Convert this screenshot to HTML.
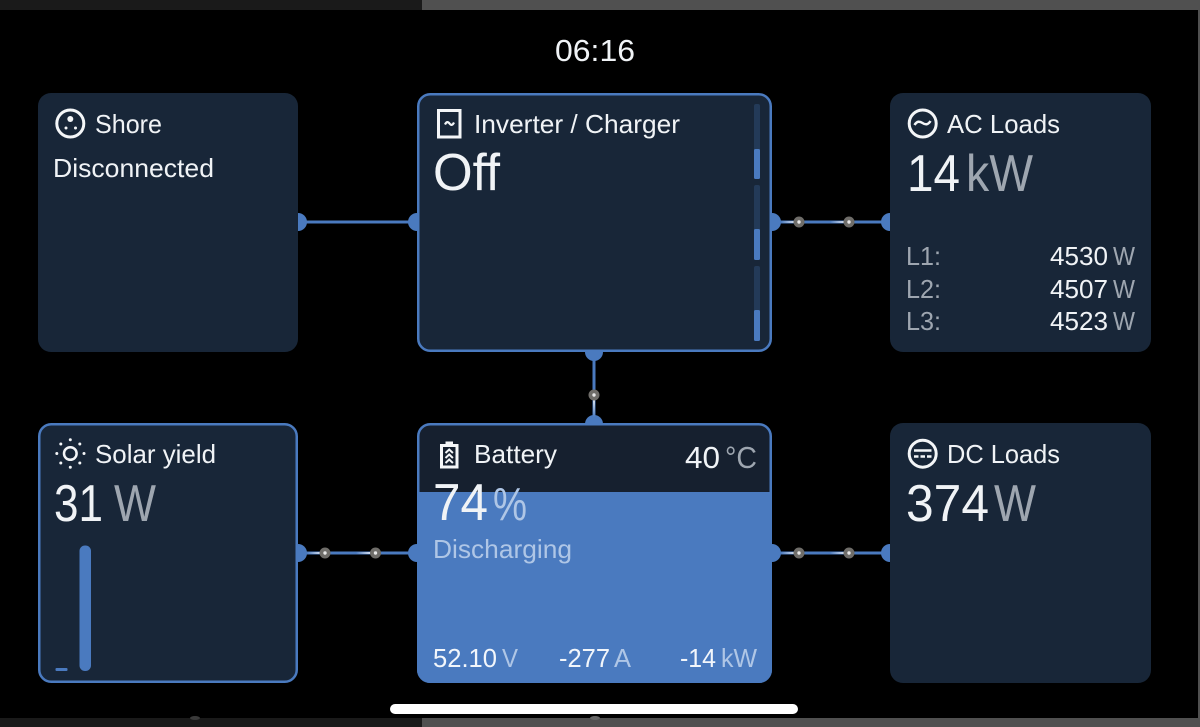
<!DOCTYPE html>
<html>
<head>
<meta charset="utf-8">
<style>
html,body{margin:0;padding:0;background:#000;width:1200px;height:727px;overflow:hidden}
svg{display:block;filter:blur(0.35px)}
text{font-family:"Liberation Sans",sans-serif;fill:#f0f3f6}
.g{fill:#9ea6b0}
.b{fill:#afc6e6}
.b2{fill:#f2f6fb}
</style>
</head>
<body>
<svg width="1200" height="727" viewBox="0 0 1200 727" xmlns="http://www.w3.org/2000/svg">
<defs>
<clipPath id="bc"><rect x="417" y="423" width="355" height="260" rx="13"/></clipPath>
<linearGradient id="s" x1="0" x2="1" y1="0" y2="0"><stop offset="0" stop-color="#fff" stop-opacity="0"/><stop offset="1" stop-color="#fff"/></linearGradient>
<linearGradient id="sv" x1="0" x2="0" y1="0" y2="1"><stop offset="0" stop-color="#fff"/><stop offset="1" stop-color="#fff" stop-opacity="0"/></linearGradient>
</defs>
<rect width="1200" height="727" fill="#000"/>
<rect x="0" y="0" width="422" height="10" fill="#1a1a1a"/>
<rect x="422" y="0" width="778" height="10" fill="#505050"/>
<rect x="0" y="718" width="422" height="9" fill="#1a1a1a"/>
<rect x="422" y="718" width="778" height="9" fill="#505050"/>
<rect x="1198" y="0" width="2" height="727" fill="#505050"/>
<ellipse cx="195" cy="718" rx="5" ry="2" fill="#3a3a3a"/>
<ellipse cx="595" cy="718" rx="5" ry="2" fill="#666"/>
<text x="555" y="61" font-size="31" textLength="80" lengthAdjust="spacingAndGlyphs">06:16</text>

<!-- connectors -->
<g stroke="#4a7abf" stroke-width="3" fill="none">
<path d="M298 222H417M772 222H890M298 553H417M772 553H890M594 352V423"/>
</g>
<g fill="#4a7abf">
<circle cx="298" cy="222" r="9"/><circle cx="417" cy="222" r="9"/>
<circle cx="772" cy="222" r="9"/><circle cx="890" cy="222" r="9"/>
<circle cx="298" cy="553" r="9"/><circle cx="417" cy="553" r="9"/>
<circle cx="772" cy="553" r="9"/><circle cx="890" cy="553" r="9"/>
<circle cx="594" cy="352" r="9"/><circle cx="594" cy="424" r="9"/>
</g>
<!-- cards -->
<g fill="#182638">
<rect x="38" y="93" width="260" height="259" rx="13"/>
<rect x="890" y="93" width="261" height="259" rx="13"/>
<rect x="890" y="423" width="261" height="260" rx="13"/>
</g>
<rect x="39.250" y="424.250" width="257.500" height="257.500" rx="12" fill="#182638" stroke="#4a7abf" stroke-width="2.500"/>
<rect x="418.250" y="94.250" width="352.500" height="256.500" rx="12" fill="#182638" stroke="#4a7abf" stroke-width="2.500"/>
<g clip-path="url(#bc)">
<rect x="417" y="423" width="355" height="69" fill="#16202f"/>
<rect x="417" y="492" width="355" height="191" fill="#4a7abf"/>
</g>
<rect x="418.250" y="424.250" width="352.500" height="257.500" rx="12" fill="none" stroke="#4a7abf" stroke-width="2.500"/>

<!-- moving dots -->
<g>
<rect x="781" y="221" width="18" height="2" fill="url(#s)"/><rect x="830" y="221" width="19" height="2" fill="url(#s)"/>
<rect x="307" y="552" width="18" height="2" fill="url(#s)"/><rect x="356" y="552" width="19" height="2" fill="url(#s)"/>
<rect x="781" y="552" width="18" height="2" fill="url(#s)"/><rect x="830" y="552" width="19" height="2" fill="url(#s)"/>
<rect x="593" y="395" width="2" height="22" fill="url(#sv)"/>
<g fill="#6f6d69">
<circle cx="799" cy="222" r="5.500"/><circle cx="849" cy="222" r="5.500"/>
<circle cx="325" cy="553" r="5.500"/><circle cx="375.500" cy="553" r="5.500"/>
<circle cx="799" cy="553" r="5.500"/><circle cx="849" cy="553" r="5.500"/>
<circle cx="594" cy="395" r="5.500"/>
</g>
<g fill="#e8e8e8">
<circle cx="799" cy="222" r="1.700"/><circle cx="849" cy="222" r="1.700"/>
<circle cx="325" cy="553" r="1.700"/><circle cx="375.500" cy="553" r="1.700"/>
<circle cx="799" cy="553" r="1.700"/><circle cx="849" cy="553" r="1.700"/>
<circle cx="594" cy="395" r="1.700"/>
</g>
</g>

<!-- Shore -->
<circle cx="70.300" cy="123.500" r="13.500" fill="none" stroke="#f4f6f8" stroke-width="3"/>
<circle cx="70.300" cy="119" r="3" fill="#f4f6f8"/>
<circle cx="66" cy="128" r="1.500" fill="#f4f6f8"/><circle cx="75.500" cy="128" r="1.500" fill="#f4f6f8"/>
<text x="95" y="133" font-size="26" textLength="67" lengthAdjust="spacingAndGlyphs">Shore</text>
<text x="53" y="177" font-size="26" textLength="161" lengthAdjust="spacingAndGlyphs">Disconnected</text>

<!-- Inverter -->
<rect x="438.500" y="110.500" width="21.500" height="26.500" fill="none" stroke="#f4f6f8" stroke-width="3"/>
<path d="M445 124.500c1.500-3 3-3 4.500-1s3 2 4.500-1" fill="none" stroke="#f4f6f8" stroke-width="2.200"/>
<text x="474" y="133" font-size="26" textLength="206" lengthAdjust="spacingAndGlyphs">Inverter / Charger</text>
<text x="433" y="190" font-size="52" textLength="67" lengthAdjust="spacingAndGlyphs">Off</text>
<g fill="#233a58">
<rect x="754" y="104" width="6" height="75" rx="2"/>
<rect x="754" y="185" width="6" height="75" rx="2"/>
<rect x="754" y="266" width="6" height="75" rx="2"/>
</g>
<g fill="#4a7abf">
<rect x="754" y="149" width="6" height="30" rx="1.500"/>
<rect x="754" y="229" width="6" height="31" rx="1.500"/>
<rect x="754" y="310" width="6" height="31" rx="1.500"/>
</g>

<!-- AC Loads -->
<circle cx="922.700" cy="123.500" r="13.500" fill="none" stroke="#f4f6f8" stroke-width="3"/>
<path d="M914.500 125c2.500-4 5-4 8-2s5.500 2 8-2" fill="none" stroke="#f4f6f8" stroke-width="2.500"/>
<text x="947" y="133" font-size="26" textLength="113" lengthAdjust="spacingAndGlyphs">AC Loads</text>
<text x="907" y="191" font-size="52" textLength="53" lengthAdjust="spacingAndGlyphs">14</text>
<text class="g" x="966" y="191" font-size="52" textLength="67" lengthAdjust="spacingAndGlyphs">kW</text>
<g font-size="26">
<text class="g" x="906" y="265" textLength="35" lengthAdjust="spacingAndGlyphs">L1:</text>
<text class="g" x="906" y="298" textLength="35" lengthAdjust="spacingAndGlyphs">L2:</text>
<text class="g" x="906" y="330" textLength="35" lengthAdjust="spacingAndGlyphs">L3:</text>
<text x="1050" y="265" textLength="58" lengthAdjust="spacingAndGlyphs">4530</text>
<text x="1050" y="298" textLength="58" lengthAdjust="spacingAndGlyphs">4507</text>
<text x="1050" y="330" textLength="58" lengthAdjust="spacingAndGlyphs">4523</text>
<text class="g" x="1113" y="265" textLength="22" lengthAdjust="spacingAndGlyphs">W</text>
<text class="g" x="1113" y="298" textLength="22" lengthAdjust="spacingAndGlyphs">W</text>
<text class="g" x="1113" y="330" textLength="22" lengthAdjust="spacingAndGlyphs">W</text>
</g>

<!-- Solar -->
<circle cx="70.300" cy="453.500" r="6.300" fill="none" stroke="#f4f6f8" stroke-width="2.500"/>
<g fill="#f4f6f8">
<circle cx="70.300" cy="439.800" r="1.500"/><circle cx="70.300" cy="467.200" r="1.500"/>
<circle cx="56.800" cy="453.500" r="1.500"/><circle cx="84" cy="453.500" r="1.500"/>
<circle cx="60.800" cy="444" r="1.500"/><circle cx="79.800" cy="444" r="1.500"/>
<circle cx="60.800" cy="463" r="1.500"/><circle cx="79.800" cy="463" r="1.500"/>
</g>
<text x="95" y="463" font-size="26" textLength="121" lengthAdjust="spacingAndGlyphs">Solar yield</text>
<text x="54" y="521" font-size="52" textLength="49" lengthAdjust="spacingAndGlyphs">31</text>
<text class="g" x="114" y="521" font-size="52" textLength="42" lengthAdjust="spacingAndGlyphs">W</text>
<rect x="79.500" y="545.500" width="11.500" height="125.500" rx="5.500" fill="#4a7abf"/>
<rect x="55.500" y="668" width="12" height="3" rx="1" fill="#4a7abf"/>

<!-- Battery -->
<rect x="441.500" y="445.500" width="15.500" height="21.500" fill="none" stroke="#f4f6f8" stroke-width="3"/>
<rect x="445.500" y="441.500" width="7.500" height="3.500" fill="#f4f6f8"/>
<path d="M445.500 453l3.700-3.500 3.700 3.500M445.500 458l3.700-3.500 3.700 3.500M445.500 463l3.700-3.500 3.700 3.500" fill="none" stroke="#f4f6f8" stroke-width="2"/>
<text x="474" y="463" font-size="26" textLength="83" lengthAdjust="spacingAndGlyphs">Battery</text>
<text x="685" y="468" font-size="31" textLength="35" lengthAdjust="spacingAndGlyphs">40</text>
<text class="g" x="725" y="468" font-size="31" textLength="32" lengthAdjust="spacingAndGlyphs">°C</text>
<text x="433" y="520" font-size="52" textLength="55" lengthAdjust="spacingAndGlyphs">74</text>
<text class="b" x="493" y="520" font-size="46" textLength="34" lengthAdjust="spacingAndGlyphs">%</text>
<text class="b" x="433" y="558" font-size="26" textLength="139" lengthAdjust="spacingAndGlyphs">Discharging</text>
<g font-size="26">
<text class="b2" x="433" y="667" textLength="64" lengthAdjust="spacingAndGlyphs">52.10</text>
<text class="b" x="502" y="667" textLength="16" lengthAdjust="spacingAndGlyphs">V</text>
<text class="b2" x="559" y="667" textLength="51" lengthAdjust="spacingAndGlyphs">-277</text>
<text class="b" x="614" y="667" textLength="17" lengthAdjust="spacingAndGlyphs">A</text>
<text class="b2" x="680" y="667" textLength="36" lengthAdjust="spacingAndGlyphs">-14</text>
<text class="b" x="721" y="667" textLength="36" lengthAdjust="spacingAndGlyphs">kW</text>
</g>

<!-- DC Loads -->
<circle cx="922.700" cy="453.700" r="13.500" fill="none" stroke="#f4f6f8" stroke-width="3"/>
<path d="M914 450.500H931.500" stroke="#f4f6f8" stroke-width="2.400"/>
<path d="M914 456.500H931.500" stroke="#f4f6f8" stroke-width="2.400" stroke-dasharray="4.500 2"/>
<text x="947" y="463" font-size="26" textLength="113" lengthAdjust="spacingAndGlyphs">DC Loads</text>
<text x="906" y="521" font-size="52" textLength="83" lengthAdjust="spacingAndGlyphs">374</text>
<text class="g" x="994" y="521" font-size="52" textLength="42" lengthAdjust="spacingAndGlyphs">W</text>

<!-- home indicator -->
<rect x="390" y="704" width="408" height="10" rx="5" fill="#fff"/>
</svg>
</body>
</html>
